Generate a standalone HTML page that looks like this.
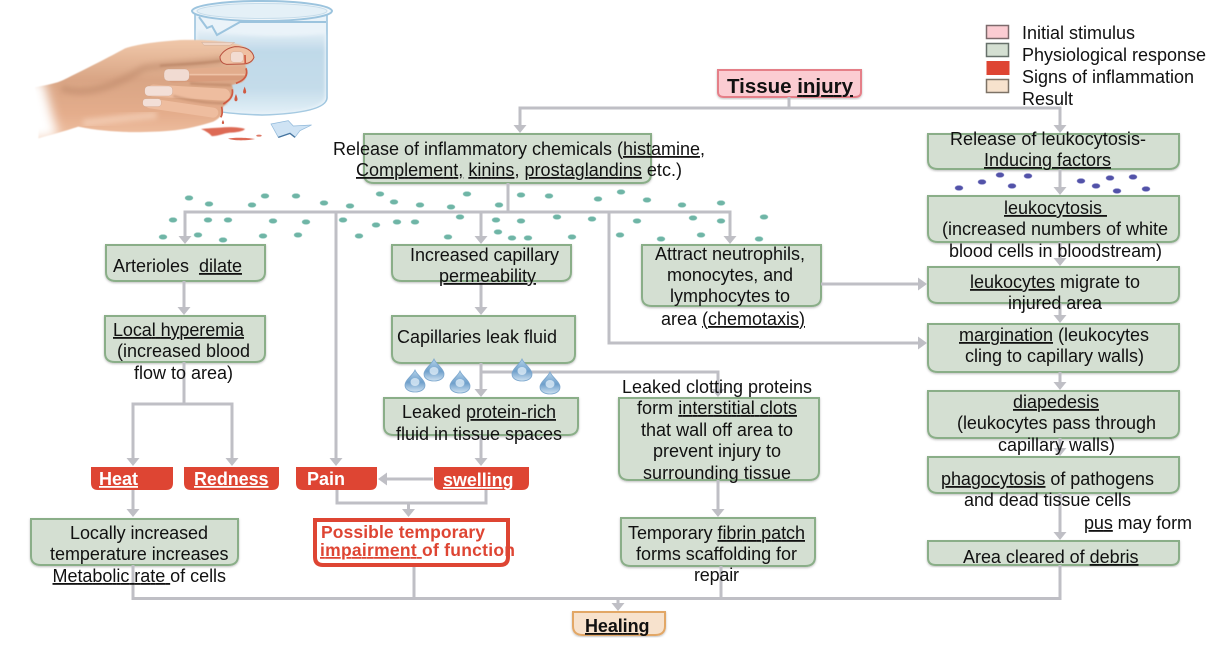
<!DOCTYPE html>
<html><head><meta charset="utf-8"><title>Inflammation</title>
<style>
html,body{margin:0;padding:0;background:#fff}
svg{display:block}
text{font-family:"Liberation Sans",sans-serif;font-size:18px;fill:#111;white-space:pre}
.u{text-decoration:underline}
.b{font-weight:bold}
.w{font-weight:bold;fill:#fff;font-size:18px}
.r{font-weight:bold;fill:#de4533;font-size:17.500px}
.ln{fill:none;stroke:#bfbfc5;stroke-width:3}
.ah{fill:#bfbfc5}
.bx{fill:#d4dfd2;stroke:#8aae88;stroke-width:2;filter:url(#sh)}
.rd{fill:#de4533}
.t{fill:#6fb5a6;stroke:#9fd0c6;stroke-width:.6}
.p{fill:#5252a8;stroke:#8a8ac8;stroke-width:.6}
</style></head><body>
<svg width="1222" height="645" viewBox="0 0 1222 645" xmlns="http://www.w3.org/2000/svg">
<defs>
<filter id="sh" x="-5%" y="-5%" width="110%" height="115%"><feDropShadow dx="0" dy="1" stdDeviation="1" flood-color="#000" flood-opacity=".25"/></filter>
<filter id="bl" x="-10%" y="-10%" width="120%" height="120%"><feGaussianBlur stdDeviation="1.500"/></filter>
<filter id="bl2" x="-30%" y="-30%" width="160%" height="160%"><feGaussianBlur stdDeviation="8"/></filter>
<filter id="bl3" x="-30%" y="-30%" width="160%" height="160%"><feGaussianBlur stdDeviation="3"/></filter>
<filter id="bl4" x="-30%" y="-30%" width="160%" height="160%"><feGaussianBlur stdDeviation="16"/></filter>
<linearGradient id="hg" x1="0" y1="0" x2="0" y2="1"><stop offset="0" stop-color="#f0c8aa"/><stop offset=".4" stop-color="#d9a585"/><stop offset=".75" stop-color="#e4ad8c"/><stop offset="1" stop-color="#efc0a2"/></linearGradient>
<linearGradient id="fg" x1="0" y1="0" x2="0" y2="1"><stop offset="0" stop-color="#e2ac8c"/><stop offset=".5" stop-color="#f2c8ac"/><stop offset="1" stop-color="#d89c7c"/></linearGradient>
<linearGradient id="wg" x1="0" y1="0" x2="0" y2="1"><stop offset="0" stop-color="#e6f0f7"/><stop offset=".25" stop-color="#c0d9e9"/><stop offset=".7" stop-color="#c4dcea"/><stop offset="1" stop-color="#e2eff7"/></linearGradient>
<linearGradient id="dg" x1="0" y1="0" x2="0" y2="1"><stop offset="0" stop-color="#b5d3ea"/><stop offset=".55" stop-color="#6e9fcb"/><stop offset="1" stop-color="#cfe2f1"/></linearGradient>
<g id="drop"><path d="M0-11C2-6 10-1 10 4C10 9 5 11 0 11C-5 11-10 9-10 4C-10-1-2-6 0-11Z" fill="url(#dg)" stroke="#7ba6cd" stroke-width=".8"/><ellipse cx="0" cy="1" rx="4.500" ry="4" fill="#e3eff8" opacity=".75"/></g>
<ellipse id="td" rx="4" ry="2.400" class="t"/>
<ellipse id="pd" rx="4" ry="2.400" class="p"/>
</defs>

<!-- beaker and hand -->
<g>
<path d="M195 12V100Q196 113 262 115Q326 113 327 98V12Z" fill="#eaf3f9" stroke="#9cc4de" stroke-width="1.600"/>
<path d="M197 30Q262 40 325 34V97Q322 112 262 113Q199 112 197 98Z" fill="url(#wg)" filter="url(#bl)"/>
<ellipse cx="262" cy="11" rx="70" ry="10" fill="#f0f6fa" stroke="#9cc4de" stroke-width="2"/>
<ellipse cx="262" cy="11" rx="65" ry="7.500" fill="#e4f0f7" stroke="#c6dcea" stroke-width="1"/>
<path d="M199 17L207 28L212 26L217 35L240 22L326 22" fill="none" stroke="#9cc4de" stroke-width="2"/>
<g transform="scale(.3333)">
<path d="M105 262C140 255 170 250 190 240C260 205 330 170 375 145C420 130 480 125 540 120C600 118 680 122 720 135C750 145 765 165 760 178C755 190 740 195 735 195C745 210 745 235 725 247C715 250 705 252 695 255C705 275 700 295 680 310L668 322C672 340 660 355 640 365C600 378 550 390 500 393C430 398 330 400 235 380C190 395 150 405 115 415C118 360 110 300 105 262Z" fill="url(#hg)" filter="url(#bl)"/>
<path d="M185 265C260 290 340 260 430 205C470 195 560 195 670 180" fill="none" stroke="#b47f60" stroke-width="22" opacity=".4" filter="url(#bl2)"/>
<path d="M250 370C330 360 400 350 470 345" fill="none" stroke="#f8d8c2" stroke-width="22" opacity=".6" filter="url(#bl2)"/>
<path d="M520 228L715 220" stroke="url(#fg)" stroke-width="40" stroke-linecap="round" fill="none"/>
<path d="M460 272L672 284" stroke="#eebd9f" stroke-width="36" stroke-linecap="round" fill="none"/>
<path d="M450 310L640 338" stroke="#eebd9f" stroke-width="30" stroke-linecap="round" fill="none"/>
<path d="M480 197C560 192 620 190 665 182M570 250C610 254 660 254 695 256M520 288C580 305 630 310 680 310" fill="none" stroke="#a0684a" stroke-width="5" opacity=".55" filter="url(#bl3)"/>
<path d="M660 170Q672 146 705 140Q755 140 762 172Q755 192 725 192L680 193Q660 190 660 170Z" fill="#efc0a2" stroke="#b8503e" stroke-width="3"/>
<rect x="492" y="207" width="76" height="36" rx="13" fill="#f1dbd2" stroke="#c89b80"/>
<rect x="434" y="258" width="84" height="30" rx="12" fill="#f3dfd7" stroke="#c89b80"/>
<rect x="428" y="296" width="56" height="24" rx="10" fill="#f3dfd7" stroke="#c89b80"/>
<rect x="692" y="155" width="38" height="32" rx="10" fill="#f2dcd2" stroke="#c89b80"/>
<path d="M605 127H704L690 136H612Z" fill="#f0d4c4" stroke="#c2a08c"/>
<path d="M735 165L736 192M738 205C745 225 735 240 708 250M697 268C700 290 690 300 670 312M665 320C668 335 668 345 662 352" fill="none" stroke="#cf5a42" stroke-width="5"/>
<path d="M734 260C738 270 742 280 734 281C726 280 730 270 734 260ZM708 282C712 292 716 303 708 304C700 303 704 292 708 282ZM669 360C672 365 675 372 669 372C663 372 666 365 669 360Z" fill="#cf5a42"/>
<path d="M603 387C625 385 640 384 660 383C690 380 720 382 735 387C730 395 700 398 690 398C670 400 650 410 635 408C630 402 620 394 603 387Z" fill="#dd6a55" filter="url(#bl)"/>
<path d="M684 416C700 412 740 412 765 417C745 422 700 423 684 416Z" fill="#dd6a55"/>
<ellipse cx="777" cy="407" rx="8" ry="3" fill="#dd7a68"/>
<path d="M813 372L865 362L880 378L935 375L900 392L885 412L870 400L835 412Z" fill="#cfe3f4" stroke="#8fb8da" stroke-width="2"/>
<path d="M835 412L870 400L885 412" fill="none" stroke="#45749f" stroke-width="4"/>
<path d="M30 240L130 240L175 410L30 430Z" fill="#fff" filter="url(#bl4)"/>
</g>
</g>

<!-- boxes -->
<path d="M718 70H861V92Q861 97 855 97H724Q718 97 718 92Z" fill="#fbccd2" stroke="#e57f88" stroke-width="2" filter="url(#sh)"/>
<path class="bx" d="M364 134H651V174Q651 183 641 183H374Q364 183 364 174Z"/>
<path class="bx" d="M928 134H1179V160Q1179 169 1169 169H938Q928 169 928 160Z"/>
<path class="bx" d="M928 196H1179V233Q1179 242 1169 242H938Q928 242 928 233Z"/>
<path class="bx" d="M928 267H1179V294Q1179 303 1169 303H938Q928 303 928 294Z"/>
<path class="bx" d="M928 324H1179V363Q1179 372 1169 372H938Q928 372 928 363Z"/>
<path class="bx" d="M928 391H1179V429Q1179 438 1169 438H938Q928 438 928 429Z"/>
<path class="bx" d="M928 457H1179V484Q1179 493 1169 493H938Q928 493 928 484Z"/>
<path class="bx" d="M928 541H1179V558Q1179 565 1171 565H936Q928 565 928 558Z"/>
<path class="bx" d="M106 245H265V272Q265 281 255 281H116Q106 281 106 272Z"/>
<path class="bx" d="M105 316H265V353Q265 362 255 362H115Q105 362 105 353Z"/>
<path class="bx" d="M392 245H571V272Q571 281 561 281H402Q392 281 392 272Z"/>
<path class="bx" d="M392 316H575V354Q575 363 565 363H402Q392 363 392 354Z"/>
<path class="bx" d="M384 398H578V426Q578 435 568 435H394Q384 435 384 426Z"/>
<path class="bx" d="M642 245H821V297Q821 306 811 306H652Q642 306 642 297Z"/>
<path class="bx" d="M619 398H819V471Q819 480 809 480H629Q619 480 619 471Z"/>
<path class="bx" d="M621 518H815V557Q815 566 805 566H631Q621 566 621 557Z"/>
<path class="bx" d="M31 519H238V556Q238 565 228 565H41Q31 565 31 556Z"/>
<path d="M573 612H665V626Q665 635 655 635H583Q573 635 573 626Z" fill="#f7e2cd" stroke="#e2a766" stroke-width="2" filter="url(#sh)"/>
<path class="rd" d="M91 467H173V483Q173 490 166 490H98Q91 490 91 483Z"/>
<path class="rd" d="M184 467H279V483Q279 490 272 490H191Q184 490 184 483Z"/>
<path class="rd" d="M296 467H377V483Q377 490 370 490H303Q296 490 296 483Z"/>
<path class="rd" d="M434 467H529V483Q529 490 522 490H441Q434 490 434 483Z"/>
<path d="M315 520H508V557Q508 565 500 565H323Q315 565 315 557Z" fill="#fff" stroke="#de4533" stroke-width="4"/>

<!-- legend swatches -->
<rect x="986.500" y="25.500" width="22" height="13" fill="#fbccd2" stroke="#7d6a6c" stroke-width="1.500"/>
<rect x="986.500" y="43.500" width="22" height="13" fill="#d4dfd2" stroke="#66706a" stroke-width="1.500"/>
<rect x="986.500" y="61" width="23" height="14" fill="#de4533"/>
<rect x="986.500" y="79.500" width="22" height="13" fill="#f7e2cd" stroke="#7d7266" stroke-width="1.500"/>

<!-- dots -->
<g>
<use href="#td" x="189" y="198"/><use href="#td" x="209" y="204"/><use href="#td" x="252" y="205"/><use href="#td" x="265" y="196"/><use href="#td" x="296" y="196"/><use href="#td" x="324" y="203"/><use href="#td" x="350" y="206"/><use href="#td" x="380" y="194"/><use href="#td" x="394" y="202"/><use href="#td" x="420" y="205"/><use href="#td" x="451" y="207"/><use href="#td" x="467" y="194"/><use href="#td" x="499" y="205"/><use href="#td" x="521" y="195"/><use href="#td" x="549" y="196"/><use href="#td" x="598" y="199"/><use href="#td" x="621" y="192"/><use href="#td" x="647" y="200"/><use href="#td" x="682" y="205"/><use href="#td" x="721" y="203"/>
<use href="#td" x="173" y="220"/><use href="#td" x="208" y="220"/><use href="#td" x="228" y="220"/><use href="#td" x="273" y="221"/><use href="#td" x="306" y="222"/><use href="#td" x="343" y="220"/><use href="#td" x="376" y="225"/><use href="#td" x="397" y="222"/><use href="#td" x="415" y="222"/><use href="#td" x="460" y="217"/><use href="#td" x="496" y="220"/><use href="#td" x="521" y="221"/><use href="#td" x="557" y="217"/><use href="#td" x="592" y="219"/><use href="#td" x="637" y="221"/><use href="#td" x="693" y="218"/><use href="#td" x="721" y="221"/><use href="#td" x="764" y="217"/>
<use href="#td" x="163" y="237"/><use href="#td" x="198" y="235"/><use href="#td" x="223" y="240"/><use href="#td" x="263" y="236"/><use href="#td" x="298" y="235"/><use href="#td" x="359" y="236"/><use href="#td" x="448" y="237"/><use href="#td" x="498" y="232"/><use href="#td" x="512" y="238"/><use href="#td" x="528" y="238"/><use href="#td" x="572" y="237"/><use href="#td" x="620" y="235"/><use href="#td" x="661" y="239"/><use href="#td" x="701" y="235"/><use href="#td" x="759" y="239"/>
<use href="#pd" x="959" y="188"/><use href="#pd" x="982" y="182"/><use href="#pd" x="1000" y="175"/><use href="#pd" x="1012" y="186"/><use href="#pd" x="1028" y="176"/><use href="#pd" x="1081" y="181"/><use href="#pd" x="1096" y="186"/><use href="#pd" x="1110" y="178"/><use href="#pd" x="1117" y="191"/><use href="#pd" x="1133" y="177"/><use href="#pd" x="1146" y="189"/>
</g>

<!-- connectors -->
<g class="ln">
<path d="M789 97V108M520 128V108H1060V128"/>
<path d="M1060 169V190M1060 242V262M1060 303V319M1060 372V386M1060 438V452M1060 493V535"/>
<path d="M508 183V212M185 238V212H730V238"/>
<path d="M336 212V460M481 212V238M609 212V343H920"/>
<path d="M481 281V310M481 363V392M481 372H718V392"/>
<path d="M821 284H920"/>
<path d="M184 281V310M184 362V404M133 460V404H232V460"/>
<path d="M133 490V512M481 435V460M433 479H385"/>
<path d="M337 490V503H486V490M408.500 503V511"/>
<path d="M718 480V512"/>
<path d="M133 565V598.500H1060V565M414 567V598M721 566V598M618 598V605"/>
</g>
<g class="ah">
<polygon points="513.500,125 526.500,125 520,133"/>
<polygon points="1053.500,125 1066.500,125 1060,133"/>
<polygon points="1053.500,187 1066.500,187 1060,195"/>
<polygon points="1053.500,258 1066.500,258 1060,266"/>
<polygon points="1053.500,315 1066.500,315 1060,323"/>
<polygon points="1053.500,382 1066.500,382 1060,390"/>
<polygon points="1053.500,448 1066.500,448 1060,456"/>
<polygon points="1053.500,532 1066.500,532 1060,540"/>
<polygon points="178.500,236 191.500,236 185,244"/>
<polygon points="474.500,236 487.500,236 481,244"/>
<polygon points="723.500,236 736.500,236 730,244"/>
<polygon points="177.500,307 190.500,307 184,315"/>
<polygon points="474.500,307 487.500,307 481,315"/>
<polygon points="474.500,389 487.500,389 481,397"/>
<polygon points="711.500,389 724.500,389 718,397"/>
<polygon points="711.500,509 724.500,509 718,517"/>
<polygon points="126.500,458 139.500,458 133,466"/>
<polygon points="225.500,458 238.500,458 232,466"/>
<polygon points="329.500,458 342.500,458 336,466"/>
<polygon points="474.500,458 487.500,458 481,466"/>
<polygon points="126.500,509 139.500,509 133,517"/>
<polygon points="402,509 415,509 408.500,517"/>
<polygon points="611.500,603 624.500,603 618,611"/>
<polygon points="387,472.500 387,485.500 378,479"/>
<polygon points="918,277.500 918,290.500 927,284"/>
<polygon points="918,336.500 918,349.500 927,343"/>
</g>

<!-- drops -->
<use href="#drop" x="415" y="381"/><use href="#drop" x="434" y="370"/><use href="#drop" x="460" y="382"/><use href="#drop" x="522" y="370"/><use href="#drop" x="550" y="383"/>

<!-- legend -->
<text x="1022" y="39" textLength="113">Initial stimulus</text>
<text x="1022" y="61" textLength="184">Physiological response</text>
<text x="1022" y="83" textLength="172">Signs of inflammation</text>
<text x="1022" y="105" textLength="51">Result</text>

<!-- labels -->
<text class="b" x="727" y="93" style="font-size:20.500px" textLength="126">Tissue <tspan class="u">injury</tspan></text>
<text x="333" y="155" textLength="372">Release of inflammatory chemicals (<tspan class="u">histamine,</tspan></text>
<text x="356" y="176" textLength="326"><tspan class="u">Complement,</tspan> <tspan class="u">kinins,</tspan> <tspan class="u">prostaglandins</tspan> etc.)</text>

<text x="950" y="145" textLength="196">Release of leukocytosis-</text>
<text x="984" y="166" textLength="127"><tspan class="u">Inducing factors</tspan></text>
<text x="1004" y="214" textLength="103"><tspan class="u">leukocytosis </tspan></text>
<text x="942" y="235" textLength="226">(increased numbers of white</text>
<text x="949" y="257" textLength="213">blood cells in bloodstream)</text>
<text x="970" y="288" textLength="170"><tspan class="u">leukocytes</tspan> migrate to</text>
<text x="1008" y="309" textLength="94">injured area</text>
<text x="959" y="341" textLength="190"><tspan class="u">margination</tspan> (leukocytes</text>
<text x="965" y="362" textLength="179">cling to capillary walls)</text>
<text x="1013" y="408" textLength="86"><tspan class="u">diapedesis</tspan></text>
<text x="957" y="429" textLength="199">(leukocytes pass through</text>
<text x="998" y="451" textLength="117">capillary walls)</text>
<text x="941" y="485" textLength="213"><tspan class="u">phagocytosis</tspan> of pathogens</text>
<text x="964" y="506" textLength="167">and dead tissue cells</text>
<text x="1084" y="529" textLength="108"><tspan class="u">pus</tspan> may form</text>
<text x="963" y="563" textLength="175.500">Area cleared of <tspan class="u">debris</tspan></text>

<text x="655" y="260" textLength="150">Attract neutrophils,</text>
<text x="667" y="281" textLength="126">monocytes, and</text>
<text x="670" y="302" textLength="120">lymphocytes to</text>
<text x="661" y="325" textLength="144">area <tspan class="u">(chemotaxis)</tspan></text>

<text x="622" y="393" textLength="190">Leaked clotting proteins</text>
<text x="637" y="414" textLength="160">form <tspan class="u">interstitial clots</tspan></text>
<text x="641" y="436" textLength="152">that wall off area to</text>
<text x="653" y="457" textLength="128">prevent injury to</text>
<text x="643" y="479" textLength="148">surrounding tissue</text>

<text x="628" y="539" textLength="177">Temporary <tspan class="u">fibrin patch</tspan></text>
<text x="636" y="560" textLength="161">forms scaffolding for</text>
<text x="694" y="581" textLength="45">repair</text>

<text x="410" y="261" textLength="149">Increased capillary</text>
<text x="439" y="282" textLength="97"><tspan class="u">permeability</tspan></text>
<text x="397" y="343" textLength="160">Capillaries leak fluid</text>
<text x="402" y="418" textLength="154">Leaked <tspan class="u">protein-rich</tspan></text>
<text x="396" y="440" textLength="166">fluid in tissue spaces</text>

<text x="113" y="272" textLength="129">Arterioles  <tspan class="u">dilate</tspan></text>
<text x="113" y="336" textLength="131"><tspan class="u">Local hyperemia</tspan></text>
<text x="117" y="357" textLength="133">(increased blood</text>
<text x="134" y="379" textLength="99">flow to area)</text>

<text class="w" x="99" y="485" textLength="39"><tspan class="u">Heat</tspan></text>
<text class="w" x="194" y="485" textLength="74.500"><tspan class="u">Redness</tspan></text>
<text class="w" x="307" y="485" textLength="38">Pain</text>
<text class="w" x="443" y="486" textLength="70.500"><tspan class="u">swelling</tspan></text>

<text class="r" x="321" y="538" textLength="164">Possible temporary</text>
<text class="r" x="320" y="556" textLength="195"><tspan class="u">impairment </tspan>of function</text>

<text x="70" y="539" textLength="138">Locally increased</text>
<text x="50" y="560" textLength="178.500">temperature increases</text>
<text x="52.500" y="582" textLength="173.500"><tspan class="u">Metabolic rate </tspan>of cells</text>

<text class="b" x="585" y="632" textLength="64.500"><tspan class="u">Healing</tspan></text>
</svg>
</body></html>
